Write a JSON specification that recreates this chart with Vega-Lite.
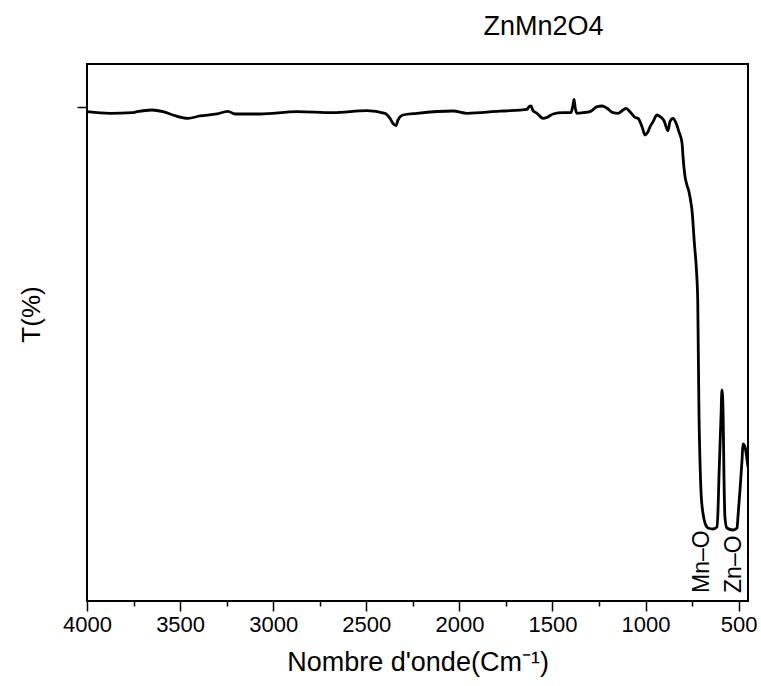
{
  "$schema": "https://vega.github.io/schema/vega-lite/v6.json",
  "width": 661,
  "height": 537,
  "autosize": "none",
  "padding": {"left": 87, "top": 64, "right": 13, "bottom": 85},
  "background": "white",
  "config": {
    "view": {"stroke": "black", "strokeWidth": 2},
    "font": "Liberation Sans",
    "axis": {"grid": false, "domain": false, "tickColor": "black", "tickWidth": 1.5, "labelColor": "black", "titleColor": "black", "labelFont": "Liberation Sans", "titleFont": "Liberation Sans", "titleFontWeight": "normal", "labelFlush": false}
  },
  "title": {"text": "ZnMn2O4", "anchor": "middle", "frame": "group", "dx": 126, "dy": 27, "offset": 23, "baseline": "bottom", "fontSize": 27, "fontWeight": "normal", "font": "Liberation Sans", "color": "black"},
  "datasets": {
    "spectrum": [
      {"wavenumber": 4000, "T": 91.12},
      {"wavenumber": 3876, "T": 90.82},
      {"wavenumber": 3758, "T": 90.93},
      {"wavenumber": 3731, "T": 91.12},
      {"wavenumber": 3651, "T": 91.43},
      {"wavenumber": 3592, "T": 91.12},
      {"wavenumber": 3527, "T": 90.37},
      {"wavenumber": 3458, "T": 89.89},
      {"wavenumber": 3393, "T": 90.32},
      {"wavenumber": 3302, "T": 90.69},
      {"wavenumber": 3243, "T": 91.19},
      {"wavenumber": 3205, "T": 90.69},
      {"wavenumber": 3071, "T": 90.69},
      {"wavenumber": 2872, "T": 91.12},
      {"wavenumber": 2679, "T": 90.93},
      {"wavenumber": 2496, "T": 91.30},
      {"wavenumber": 2400, "T": 90.82},
      {"wavenumber": 2373, "T": 89.89},
      {"wavenumber": 2357, "T": 88.96},
      {"wavenumber": 2340, "T": 88.51},
      {"wavenumber": 2330, "T": 89.57},
      {"wavenumber": 2303, "T": 90.50},
      {"wavenumber": 2228, "T": 90.82},
      {"wavenumber": 2034, "T": 91.25},
      {"wavenumber": 1959, "T": 90.82},
      {"wavenumber": 1782, "T": 91.21},
      {"wavenumber": 1728, "T": 91.30},
      {"wavenumber": 1674, "T": 91.43},
      {"wavenumber": 1637, "T": 91.56},
      {"wavenumber": 1626, "T": 92.05},
      {"wavenumber": 1615, "T": 92.18},
      {"wavenumber": 1605, "T": 91.30},
      {"wavenumber": 1583, "T": 90.82},
      {"wavenumber": 1551, "T": 89.89},
      {"wavenumber": 1529, "T": 90.07},
      {"wavenumber": 1497, "T": 90.69},
      {"wavenumber": 1444, "T": 90.93},
      {"wavenumber": 1401, "T": 90.93},
      {"wavenumber": 1390, "T": 92.36},
      {"wavenumber": 1384, "T": 93.42},
      {"wavenumber": 1379, "T": 92.05},
      {"wavenumber": 1368, "T": 90.82},
      {"wavenumber": 1336, "T": 90.93},
      {"wavenumber": 1299, "T": 91.12},
      {"wavenumber": 1261, "T": 92.05},
      {"wavenumber": 1234, "T": 92.18},
      {"wavenumber": 1207, "T": 91.75},
      {"wavenumber": 1175, "T": 90.93},
      {"wavenumber": 1148, "T": 90.82},
      {"wavenumber": 1121, "T": 91.43},
      {"wavenumber": 1105, "T": 91.75},
      {"wavenumber": 1084, "T": 91.12},
      {"wavenumber": 1057, "T": 90.07},
      {"wavenumber": 1041, "T": 89.89},
      {"wavenumber": 1019, "T": 88.32},
      {"wavenumber": 1003, "T": 86.78},
      {"wavenumber": 987, "T": 87.39},
      {"wavenumber": 976, "T": 88.32},
      {"wavenumber": 960, "T": 89.26},
      {"wavenumber": 939, "T": 90.50},
      {"wavenumber": 917, "T": 90.07},
      {"wavenumber": 901, "T": 89.44},
      {"wavenumber": 880, "T": 87.58},
      {"wavenumber": 869, "T": 89.26},
      {"wavenumber": 853, "T": 89.89},
      {"wavenumber": 837, "T": 89.07},
      {"wavenumber": 821, "T": 87.39},
      {"wavenumber": 804, "T": 85.23},
      {"wavenumber": 799, "T": 82.74},
      {"wavenumber": 788, "T": 79.01},
      {"wavenumber": 778, "T": 77.47},
      {"wavenumber": 767, "T": 76.22},
      {"wavenumber": 756, "T": 74.06},
      {"wavenumber": 751, "T": 72.81},
      {"wavenumber": 738, "T": 66.61},
      {"wavenumber": 726, "T": 61.08},
      {"wavenumber": 720, "T": 56.05},
      {"wavenumber": 717, "T": 46.74},
      {"wavenumber": 713, "T": 34.26},
      {"wavenumber": 708, "T": 26.26},
      {"wavenumber": 702, "T": 20.11},
      {"wavenumber": 692, "T": 16.39},
      {"wavenumber": 681, "T": 14.53},
      {"wavenumber": 665, "T": 13.59},
      {"wavenumber": 638, "T": 13.41},
      {"wavenumber": 617, "T": 13.78},
      {"wavenumber": 611, "T": 16.95},
      {"wavenumber": 606, "T": 23.09},
      {"wavenumber": 595, "T": 34.26},
      {"wavenumber": 590, "T": 39.29},
      {"wavenumber": 584, "T": 35.57},
      {"wavenumber": 579, "T": 23.09},
      {"wavenumber": 574, "T": 15.64},
      {"wavenumber": 563, "T": 13.59},
      {"wavenumber": 531, "T": 13.22},
      {"wavenumber": 509, "T": 13.59},
      {"wavenumber": 504, "T": 15.64},
      {"wavenumber": 493, "T": 20.67},
      {"wavenumber": 482, "T": 26.26},
      {"wavenumber": 477, "T": 29.24},
      {"wavenumber": 466, "T": 28.68},
      {"wavenumber": 455, "T": 26.26},
      {"wavenumber": 450, "T": 24.95}
    ],
    "labels": [
      {"wavenumber": 697, "T": 1.5, "label": "Mn–O"},
      {"wavenumber": 525, "T": 1.5, "label": "Zn–O"}
    ]
  },
  "layer": [
    {
      "data": {"name": "spectrum"},
      "mark": {"type": "line", "color": "black", "strokeWidth": 2.8, "clip": true, "interpolate": "monotone", "strokeJoin": "round"},
      "encoding": {
        "x": {
          "field": "wavenumber", "type": "quantitative",
          "scale": {"domain": [450, 4000], "reverse": true, "nice": false, "zero": false},
          "axis": {
            "values": [4000, 3750, 3500, 3250, 3000, 2750, 2500, 2250, 2000, 1750, 1500, 1250, 1000, 750, 500],
            "format": "d",
            "labelExpr": "datum.value % 500 === 0 ? datum.label : ''",
            "tickSize": {"condition": {"test": "datum.value % 500 !== 0", "value": 5}, "value": 10},
            "labelFontSize": 22,
            "labelPadding": 3,
            "labelOverlap": false,
            "title": "Nombre d'onde(Cm⁻¹)",
            "titleFontSize": 27,
            "titlePadding": 14
          }
        },
        "y": {
          "field": "T", "type": "quantitative",
          "scale": {"domain": [0, 100], "nice": false, "zero": false},
          "axis": {
            "values": [92],
            "labels": false,
            "tickSize": 10,
            "title": "T(%)",
            "titleFontSize": 26,
            "titleX": -43,
            "titleY": 250
          }
        },
        "order": {"field": "wavenumber", "sort": "descending"}
      }
    },
    {
      "data": {"name": "labels"},
      "mark": {"type": "text", "angle": 270, "align": "left", "baseline": "middle", "fontSize": 23, "font": "Liberation Sans", "color": "black"},
      "encoding": {
        "x": {"field": "wavenumber", "type": "quantitative"},
        "y": {"field": "T", "type": "quantitative"},
        "text": {"field": "label"}
      }
    }
  ]
}
